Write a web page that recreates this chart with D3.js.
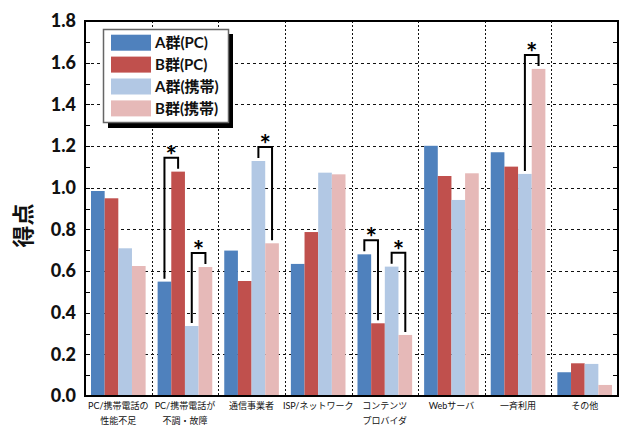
<!DOCTYPE html>
<html>
<head>
<meta charset="utf-8">
<script src="https://cdn.jsdelivr.net/npm/d3@7"></script>
<style>
  html, body { margin: 0; padding: 0; background: #fff; }
  svg { display: block; }
  text { font-family: Lato, "Noto Sans CJK JP", sans-serif; }
</style>
</head>
<body>
<svg id="chart" width="629" height="425"></svg>
<script>
// ---- data ----
const categories = [
  ["PC/携帯電話の", "性能不足"],
  ["PC/携帯電話が", "不調・故障"],
  ["通信事業者"],
  ["ISP/ネットワーク"],
  ["コンテンツ", "プロバイダ"],
  ["Webサーバ"],
  ["一斉利用"],
  ["その他"]
];
const seriesNames = ["A群(PC)", "B群(PC)", "A群(携帯)", "B群(携帯)"];
const aPC     = [0.984, 0.549, 0.698, 0.634, 0.680, 1.201, 1.170, 0.114];
const bPC     = [0.949, 1.077, 0.552, 0.787, 0.349, 1.056, 1.101, 0.157];
const aMobile = [0.709, 0.336, 1.128, 1.072, 0.621, 0.941, 1.066, 0.154];
const bMobile = [0.624, 0.619, 0.733, 1.064, 0.293, 1.069, 1.570, 0.053];
const yTicks = [0.0, 0.2, 0.4, 0.6, 0.8, 1.0, 1.2, 1.4, 1.6, 1.8];
// significance brackets: [category index, series index 1, series index 2]
const significance = [[1, 0, 1], [1, 2, 3], [2, 2, 3], [4, 0, 1], [4, 2, 3], [6, 2, 3]];

const seriesValues = [aPC, bPC, aMobile, bMobile];
const colors = ["#4f81bd", "#c0504d", "#b2c8e4", "#e6b9b8"];

// ---- layout ----
const svg = d3.select("#chart");
const L = 85, R = 618, T = 21, B = 396;

const x0 = d3.scaleBand().domain(d3.range(categories.length)).range([L, R]).padding(0);
const x1 = d3.scaleBand().domain(d3.range(seriesNames.length)).range([6, x0.bandwidth() - 6]).padding(0);
const y = d3.scaleLinear().domain([0, 1.8]).range([B, T]);

// horizontal grid
svg.append("g").selectAll("line")
  .data(yTicks.filter(t => t > 0 && t < 1.8))
  .join("line")
  .attr("x1", L).attr("x2", R)
  .attr("y1", d => Math.round(y(d)) + 0.5).attr("y2", d => Math.round(y(d)) + 0.5)
  .attr("stroke", "#111").attr("stroke-width", 1).attr("stroke-dasharray", "3,3");

// vertical dotted separators
svg.append("g").selectAll("line")
  .data(d3.range(1, categories.length))
  .join("line")
  .attr("x1", d => Math.round(x0(d)) + 0.5).attr("x2", d => Math.round(x0(d)) + 0.5)
  .attr("y1", T).attr("y2", B)
  .attr("stroke", "#111").attr("stroke-width", 1).attr("stroke-dasharray", "2,2");

// bars
const groups = svg.append("g").selectAll("g")
  .data(categories.map((c, i) => i))
  .join("g")
  .attr("transform", i => `translate(${x0(i)},0)`);
groups.selectAll("rect")
  .data(i => seriesValues.map((vals, s) => ({ s, v: vals[i] })))
  .join("rect")
  .attr("x", d => x1(d.s))
  .attr("width", x1.bandwidth())
  .attr("y", d => y(d.v))
  .attr("height", d => B - y(d.v))
  .attr("fill", d => colors[d.s]);

// ticks (inward) on left and right, every 0.1
const minor = d3.range(0, 19).map(i => i / 10);
const tickG = svg.append("g");
tickG.selectAll("line.l").data(minor).join("line").attr("class", "l")
  .attr("x1", L).attr("x2", L + 5)
  .attr("y1", d => Math.round(y(d)) + 0.5).attr("y2", d => Math.round(y(d)) + 0.5)
  .attr("stroke", "#000").attr("stroke-width", 1);
tickG.selectAll("line.r").data(minor).join("line").attr("class", "r")
  .attr("x1", R - 5).attr("x2", R)
  .attr("y1", d => Math.round(y(d)) + 0.5).attr("y2", d => Math.round(y(d)) + 0.5)
  .attr("stroke", "#000").attr("stroke-width", 1);

// frame
svg.append("rect")
  .attr("x", L).attr("y", T).attr("width", R - L).attr("height", B - T)
  .attr("fill", "none").attr("stroke", "#000").attr("stroke-width", 2);

// y tick labels
svg.append("g").selectAll("text")
  .data(yTicks)
  .join("text")
  .attr("x", 76).attr("y", d => y(d))
  .attr("dy", "0.36em")
  .attr("text-anchor", "end")
  .attr("font-size", 18).attr("font-weight", 900).attr("fill", "#111")
  .text(d => d.toFixed(1));

// y axis title
svg.append("text")
  .attr("transform", `translate(23,${(T + B) / 2 + 17}) rotate(-90)`)
  .attr("text-anchor", "middle").attr("dy", "0.36em")
  .attr("font-size", 22).attr("font-weight", 700).attr("fill", "#111")
  .text("得点");

// x labels
const xl = svg.append("g").selectAll("text")
  .data(categories.map((c, i) => ({ c, i })))
  .join("text")
  .attr("text-anchor", "middle")
  .attr("font-size", 9).attr("fill", "#111");
xl.selectAll("tspan")
  .data(d => d.c.map((line, k) => ({ line, k, i: d.i })))
  .join("tspan")
  .attr("x", d => x0(d.i) + x0.bandwidth() / 2)
  .attr("y", d => 409 + d.k * 15)
  .text(d => d.line);

// significance brackets
const bG = svg.append("g");
significance.forEach(([ci, s1, s2]) => {
  const xa = x0(ci) + x1(s1) + x1.bandwidth() / 2;
  const xb = x0(ci) + x1(s2) + x1.bandwidth() / 2;
  const ya = y(seriesValues[s1][ci]) - 3;
  const yb = y(seriesValues[s2][ci]) - 3;
  const top = Math.min(ya, yb) - 11;
  bG.append("path")
    .attr("d", d3.line()([[xa, ya], [xa, top], [xb, top], [xb, yb]]))
    .attr("fill", "none").attr("stroke", "#000").attr("stroke-width", 2);
  bG.append("text")
    .attr("x", (xa + xb) / 2).attr("y", top + 7)
    .attr("text-anchor", "middle")
    .attr("font-size", 27).attr("font-weight", 700).attr("fill", "#000")
    .text("*");
});

// legend
const lg = svg.append("g");
lg.append("rect").attr("x", 108).attr("y", 34).attr("width", 125).attr("height", 94).attr("fill", "#000");
lg.append("rect").attr("x", 103.5).attr("y", 29.5).attr("width", 125).attr("height", 93)
  .attr("fill", "#fff").attr("stroke", "#666").attr("stroke-width", 1.5);
seriesNames.forEach((name, i) => {
  const cy = 42.7 + i * 21.9;
  lg.append("rect").attr("x", 111).attr("y", cy - 8).attr("width", 40).attr("height", 16).attr("fill", colors[i]);
  lg.append("text").attr("x", 155).attr("y", cy).attr("dy", "0.36em")
    .attr("font-size", 15).attr("font-weight", 700).attr("fill", "#111")
    .text(name);
});
</script>
</body>
</html>
